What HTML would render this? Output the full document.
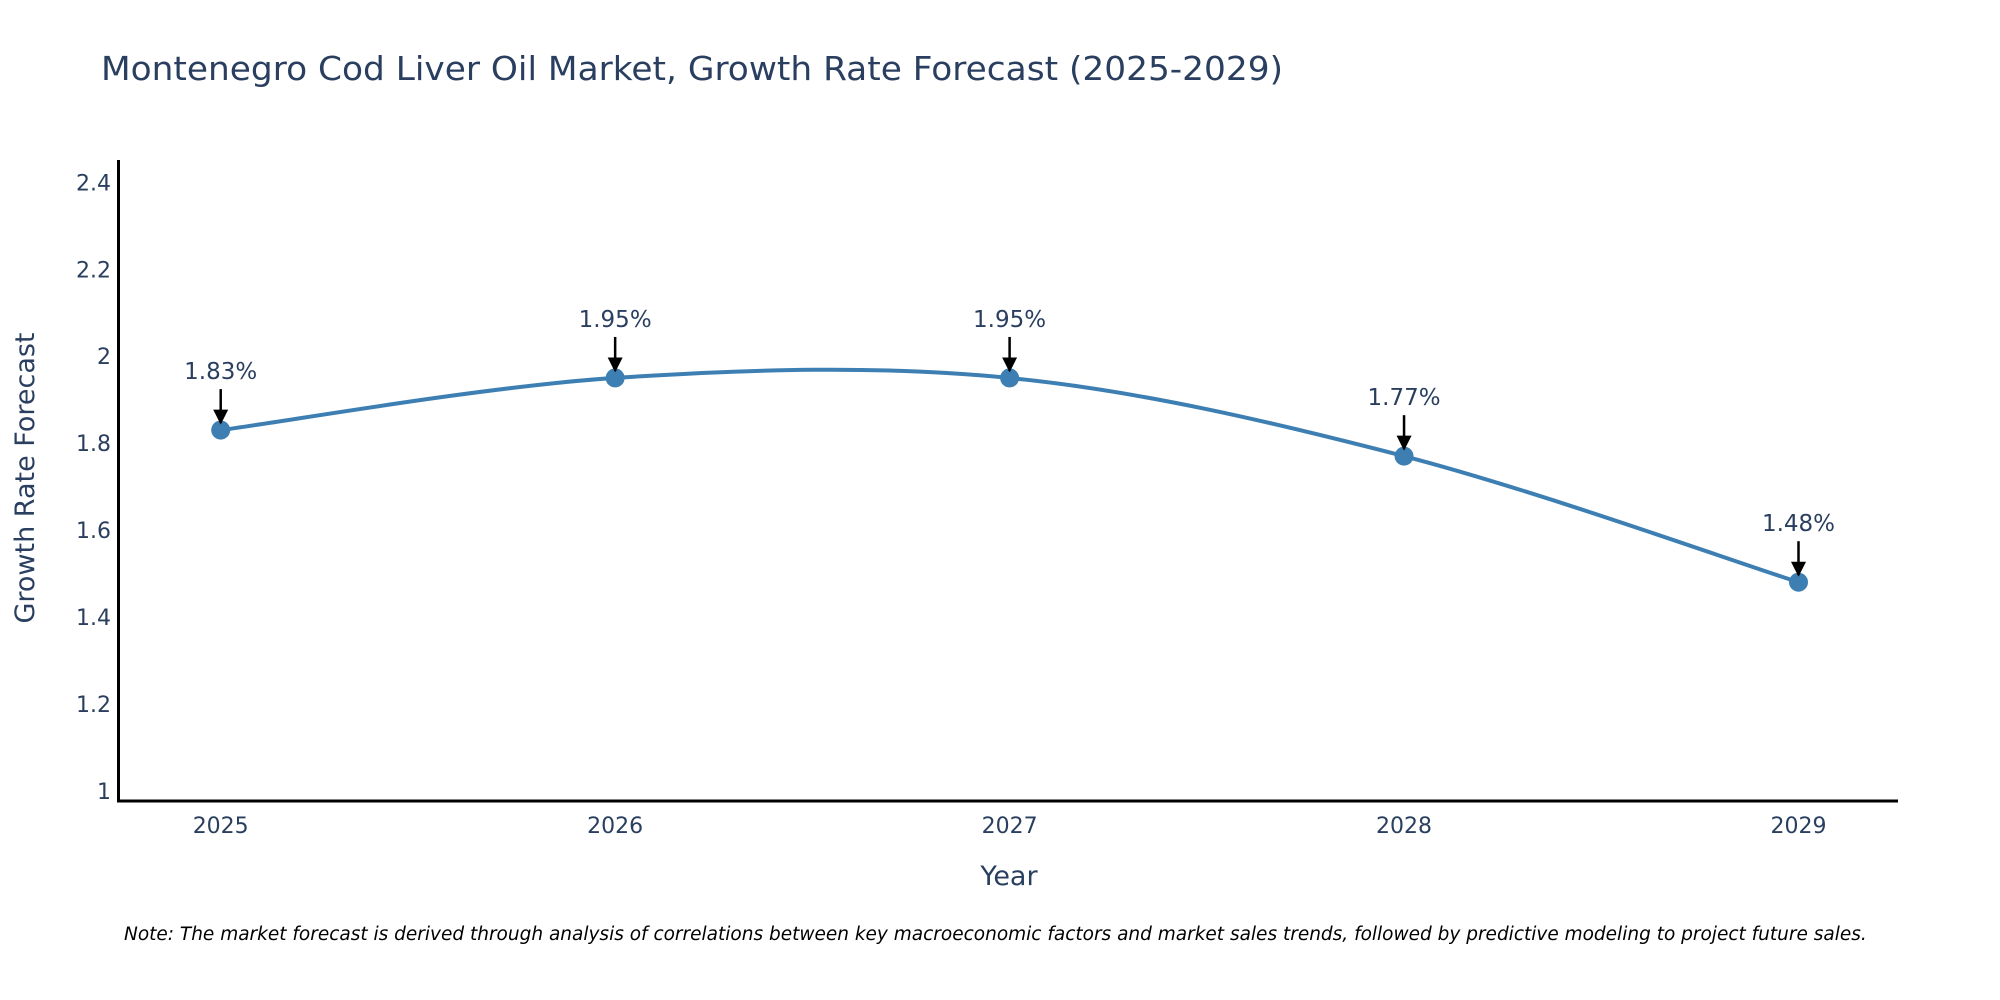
<!DOCTYPE html>
<html><head><meta charset="utf-8"><style>
html,body{margin:0;padding:0;background:#fff}
svg{display:block;font-family:"DejaVu Sans","Liberation Sans",sans-serif}
</style></head><body>
<svg id="chart" width="2000" height="1000" viewBox="0 0 2000 1000">
<text x="101" y="80" font-size="33" fill="#2a3f5f" textLength="1182" lengthAdjust="spacingAndGlyphs">Montenegro Cod Liver Oil Market, Growth Rate Forecast (2025-2029)</text>
<g id="yticks"></g>
<g id="xticks"></g>
<line x1="118.5" y1="160" x2="118.5" y2="802" stroke="#000" stroke-width="3"/>
<line x1="117" y1="801" x2="1898" y2="801" stroke="#000" stroke-width="3"/>
<text transform="translate(34,478) rotate(-90)" text-anchor="middle" font-size="27" fill="#2a3f5f">Growth Rate Forecast</text>
<text x="1009" y="885" text-anchor="middle" font-size="27" fill="#2a3f5f">Year</text>
<path id="line" fill="none" stroke="#3d7fb3" stroke-width="4"/>
<g id="points"></g>
<g id="annots"></g>
<text x="124" y="940" font-size="18.5" font-style="italic" fill="#000">Note: The market forecast is derived through analysis of correlations between key macroeconomic factors and market sales trends, followed by predictive modeling to project future sales.</text>
<defs><marker id="ah" viewBox="0 0 10 10" refX="9" refY="5" markerWidth="6" markerHeight="6" orient="auto" markerUnits="strokeWidth"><path d="M0,0L10,5L0,10z" fill="#000"/></marker></defs>
</svg>
<script>
const years = [2025, 2026, 2027, 2028, 2029];
const values = [1.83, 1.95, 1.95, 1.77, 1.48];
const labels = ["1.83%", "1.95%", "1.95%", "1.77%", "1.48%"];
const yTicks = [1, 1.2, 1.4, 1.6, 1.8, 2, 2.2, 2.4];
const yTickLabels = ["1", "1.2", "1.4", "1.6", "1.8", "2", "2.2", "2.4"];
const NS = "http://www.w3.org/2000/svg";
function xs(v){return 220.7 + (v-2025)*394.45;}
function ys(v){return 790.8 - (v-1)*434.6;}
function mk(tag, attrs, parent){const e=document.createElementNS(NS,tag);for(const k in attrs)e.setAttribute(k,attrs[k]);parent.appendChild(e);return e;}
const yt=document.getElementById('yticks');
yTicks.forEach((t,i)=>{const e=mk('text',{x:111,y:ys(t)+8,'text-anchor':'end','font-size':22,fill:'#2a3f5f'},yt);


e.textContent=yTickLabels[i];});
const xt=document.getElementById('xticks');
years.forEach(y=>{const e=mk('text',{x:xs(y),y:833,'text-anchor':'middle','font-size':22,fill:'#2a3f5f'},xt);


e.textContent=String(y);});
const P=years.map((y,i)=>[xs(y),ys(values[i])]);
let d=`M${P[0][0]},${P[0][1]}`;
for(let i=0;i<P.length-1;i++){const p0=P[Math.max(0,i-1)],p1=P[i],p2=P[i+1],p3=P[Math.min(P.length-1,i+2)];const k=1/6;
d+=` C${p1[0]+(p2[0]-p0[0])*k},${p1[1]+(p2[1]-p0[1])*k} ${p2[0]-(p3[0]-p1[0])*k},${p2[1]-(p3[1]-p1[1])*k} ${p2[0]},${p2[1]}`;}
document.getElementById('line').setAttribute('d',d);
const pts=document.getElementById('points'),an=document.getElementById('annots');
P.forEach((p,i)=>{const c=mk('circle',{cx:p[0],cy:p[1],r:9.5,fill:'#3d7fb3'},pts);


const l=mk('line',{x1:p[0],y1:p[1]-41,x2:p[0],y2:p[1]-7,stroke:'#000','stroke-width':2.5,'marker-end':'url(#ah)'},an);


const t=mk('text',{x:p[0],y:p[1]-51,'text-anchor':'middle','font-size':23,fill:'#2a3f5f'},an);


t.textContent=labels[i];});
</script>
</body></html>
